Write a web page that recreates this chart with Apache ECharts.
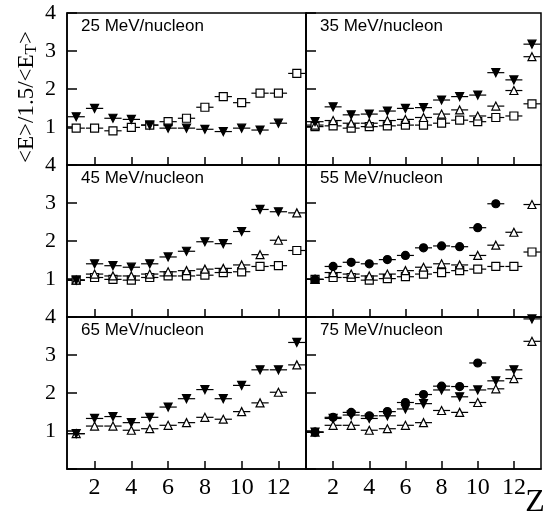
<!DOCTYPE html>
<html>
<head>
<meta charset="utf-8">
<script src="https://cdn.jsdelivr.net/npm/echarts@6/dist/echarts.min.js"></script>
<style>
  html, body { margin: 0; padding: 0; background: #fff; }
  #main { width: 543px; height: 518px; }
</style>
</head>
<body>
<div id="main"></div>
<script>
// Z values (charge) on the x axis
const zVals = [1, 2, 3, 4, 5, 6, 7, 8, 9, 10, 11, 12, 13];
const xTicks = [2, 4, 6, 8, 10, 12];
const yTicks = [1, 2, 3, 4];
const titles = ['25 MeV/nucleon', '35 MeV/nucleon', '45 MeV/nucleon',
                '55 MeV/nucleon', '65 MeV/nucleon', '75 MeV/nucleon'];

// 25 MeV/nucleon
const sq25 = [0.97, 0.97, 0.90, 0.99, 1.05, 1.14, 1.23, 1.52, 1.80, 1.64, 1.89, 1.89, 2.41];
const dn25 = [1.27, 1.49, 1.23, 1.20, 1.05, 0.97, 0.97, 0.94, 0.88, 0.97, 0.92, 1.10, null];
// 35 MeV/nucleon
const sq35 = [1.01, 1.03, 0.97, 1.01, 1.03, 1.05, 1.05, 1.10, 1.18, 1.14, 1.25, 1.29, 1.61];
const up35 = [1.05, 1.17, 1.10, 1.10, 1.17, 1.20, 1.25, 1.34, 1.45, 1.29, 1.55, 1.96, 2.85];
const dn35 = [1.14, 1.53, 1.32, 1.34, 1.42, 1.49, 1.51, 1.71, 1.80, 1.84, 2.43, 2.24, 3.18];
// 45 MeV/nucleon
const sq45 = [0.97, 1.04, 0.99, 0.97, 1.04, 1.08, 1.08, 1.10, 1.17, 1.19, 1.33, 1.35, 1.75];
const up45 = [0.97, 1.13, 1.08, 1.08, 1.13, 1.19, 1.22, 1.26, 1.28, 1.37, 1.64, 2.02, 2.74];
const dn45 = [0.97, 1.40, 1.35, 1.31, 1.40, 1.58, 1.73, 1.98, 1.93, 2.25, 2.83, 2.77, null];
// 55 MeV/nucleon
const sq55 = [0.99, 1.04, 1.04, 0.97, 1.01, 1.06, 1.13, 1.17, 1.22, 1.26, 1.33, 1.33, 1.71];
const up55 = [0.99, 1.17, 1.13, 1.08, 1.13, 1.22, 1.31, 1.40, 1.37, 1.62, 1.89, 2.23, 2.96];
const ci55 = [0.99, 1.33, 1.44, 1.40, 1.51, 1.62, 1.82, 1.87, 1.85, 2.35, 2.98, null, null];
// 65 MeV/nucleon
const up65 = [0.93, 1.13, 1.13, 1.02, 1.06, 1.15, 1.22, 1.36, 1.31, 1.51, 1.74, 2.02, 2.74];
const dn65 = [0.93, 1.33, 1.38, 1.22, 1.36, 1.63, 1.85, 2.09, 1.85, 2.20, 2.61, 2.61, 3.33];
// 75 MeV/nucleon
const up75 = [0.97, 1.15, 1.15, 1.02, 1.06, 1.15, 1.22, 1.54, 1.49, 1.75, 2.11, 2.38, 3.36];
const dn75 = [0.97, 1.33, 1.42, 1.33, 1.40, 1.58, 1.72, 2.08, 1.90, 2.08, 2.32, 2.61, 3.95];
const ci75 = [0.97, 1.36, 1.49, 1.40, 1.51, 1.75, 1.96, 2.18, 2.17, 2.79, null, null, null];

const panelSets = [
    [['square', sq25], ['down', dn25]],
    [['square', sq35], ['up', up35], ['down', dn35]],
    [['square', sq45], ['up', up45], ['down', dn45]],
    [['square', sq55], ['up', up55], ['circle', ci55]],
    [['up', up65], ['down', dn65]],
    [['up', up75], ['down', dn75], ['circle', ci75]]
];

const markStyle = {
    square: { symbol: 'rect', symbolSize: 8, symbolRotate: 0, fill: '#fff' },
    up: { symbol: 'triangle', symbolSize: 8, symbolRotate: 0, fill: '#fff' },
    down: { symbol: 'triangle', symbolSize: 8, symbolRotate: 180, fill: '#000' },
    circle: { symbol: 'circle', symbolSize: 8, symbolRotate: 0, fill: '#000' }
};

let myChart = echarts.init(document.getElementById('main'));

const colLeft = [67, 306];
const colWidth = [239, 235];
const rowTop = [13, 165, 317];
const rowHeight = 152;

let grids = [], xAxes = [], yAxes = [], series = [], graphics = [];

for (let i = 0; i < 6; i++) {
    let r = Math.floor(i / 2), c = i % 2;
    grids.push({
        left: colLeft[c], top: rowTop[r], width: colWidth[c], height: rowHeight,
        show: true, borderColor: '#000', borderWidth: 1.5, backgroundColor: 'transparent'
    });
    xAxes.push({
        gridIndex: i, type: 'value', min: 0.5, max: 13.5,
        axisLine: { show: true, lineStyle: { color: '#000', width: 1.5 } },
        axisTick: { show: true, inside: true, length: 8, customValues: xTicks,
            lineStyle: { color: '#000', width: 1.5 } },
        axisLabel: { show: r === 2, customValues: xTicks, color: '#000',
            fontFamily: 'Liberation Serif', fontSize: 24, margin: 7 },
        splitLine: { show: false }
    });
    yAxes.push({
        gridIndex: i, type: 'value', min: 0, max: 4, interval: 1,
        axisLine: { show: true, lineStyle: { color: '#000', width: 1.5 } },
        axisTick: { show: true, inside: true, length: 10,
            lineStyle: { color: '#000', width: 1.5 } },
        axisLabel: { show: c === 0, customValues: yTicks, color: '#000',
            fontFamily: 'Liberation Serif', fontSize: 22, margin: 11 },
        splitLine: { show: false }
    });
    graphics.push({
        type: 'text', left: colLeft[c] + 14, top: rowTop[r] + 5,
        style: { text: titles[i], font: '17px "Liberation Sans", Arial', fill: '#000' }
    });

    panelSets[i].forEach(function (set) {
        let kind = set[0], vals = set[1];
        let data = [];
        zVals.forEach(function (z, k) {
            if (vals[k] != null) data.push([z, vals[k]]);
        });
        // horizontal bin bars
        series.push({
            type: 'custom', xAxisIndex: i, yAxisIndex: i, data: data, z: 2,
            silent: true,
            renderItem: function (params, api) {
                let z = api.value(0), v = api.value(1);
                let a = api.coord([z - 0.47, v]);
                let b = api.coord([z + 0.47, v]);
                return {
                    type: 'line',
                    shape: { x1: a[0], y1: a[1], x2: b[0], y2: b[1] },
                    style: { stroke: '#000', lineWidth: 1.2 }
                };
            }
        });
        let m = markStyle[kind];
        series.push({
            type: 'scatter', xAxisIndex: i, yAxisIndex: i, data: data, z: 3,
            symbol: m.symbol, symbolSize: m.symbolSize, symbolRotate: m.symbolRotate,
            itemStyle: { color: m.fill, borderColor: '#000', borderWidth: 1.2, opacity: 1 }
        });
    });
}

// y axis title with subscript
graphics.push({
    type: 'text', x: 27, y: 97, rotation: Math.PI / 2,
    style: {
        text: '{a|<E>/1.5/<E}{s|T}{a|>}',
        align: 'center', verticalAlign: 'middle', fill: '#000',
        rich: {
            a: { fontFamily: 'Liberation Serif', fontSize: 23, lineHeight: 26, verticalAlign: 'middle' },
            s: { fontFamily: 'Liberation Serif', fontSize: 17, lineHeight: 26, verticalAlign: 'bottom', padding: [12, 0, 0, 0] }
        }
    }
});
graphics.push({
    type: 'text', x: 535, y: 503,
    style: { text: 'Z', align: 'center', verticalAlign: 'middle',
        font: '32px "Liberation Serif"', fill: '#000' }
});

myChart.setOption({
    animation: false,
    backgroundColor: '#fff',
    grid: grids,
    xAxis: xAxes,
    yAxis: yAxes,
    series: series,
    graphic: graphics
});
</script>
</body>
</html>
